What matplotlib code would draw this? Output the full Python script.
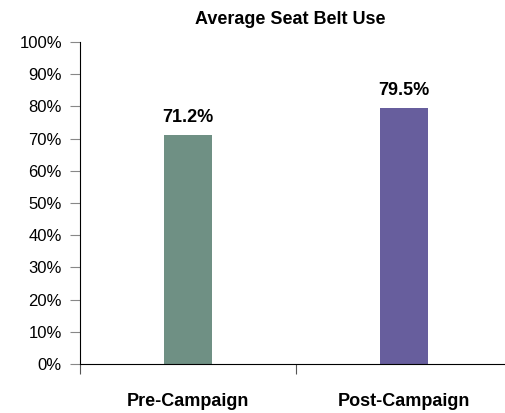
import matplotlib
matplotlib.use("Agg")
import matplotlib.pyplot as plt
from matplotlib.ticker import FixedLocator

# Chart data
categories = ["Pre-Campaign", "Post-Campaign"]
values = [71.2, 79.5]
bar_labels = ["71.2%", "79.5%"]
colors = ["#6f9084", "#675e9d"]
y_ticks = [0, 10, 20, 30, 40, 50, 60, 70, 80, 90, 100]

plt.rcParams['font.family'] = ['Liberation Sans Narrow', 'Liberation Sans', 'DejaVu Sans']

fig = plt.figure(figsize=(5.05, 4.13), dpi=100)
W, H = 505, 413
ax = fig.add_axes([80 / W, 1 - 364 / H, (512 - 80) / W, (364 - 42) / H])

x = list(range(len(categories)))
ax.bar(x, values, width=0.22, color=colors)

for xi, v, lab in zip(x, values, bar_labels):
    ax.text(xi, v + 2.8, lab, ha="center", va="bottom", fontsize=13, fontweight="bold")

ax.set_xlim(-0.5, 1.5)
ax.set_ylim(0, 100)
ax.set_yticks(y_ticks)
ax.set_yticklabels([f"{t}%" for t in y_ticks], fontsize=12)

# category boundaries as major ticks, names as minor ticks
ax.xaxis.set_major_locator(FixedLocator([-0.5, 0.5, 1.5]))
ax.xaxis.set_major_formatter(plt.NullFormatter())
ax.xaxis.set_minor_locator(FixedLocator(x))
ax.set_xticklabels(categories, minor=True, fontsize=13, fontweight="bold")
ax.tick_params(axis="x", which="minor", length=0, pad=21)
ax.tick_params(axis="x", which="major", length=7, direction="out", color="#555555")
ax.tick_params(axis="y", length=7, direction="out", color="#888888", pad=6)

ax.spines["top"].set_visible(False)
ax.spines["right"].set_visible(False)

fig.text(290 / W, 1 - 20 / H, "Average Seat Belt Use", ha="center", va="center",
         fontsize=13, fontweight="bold")

fig.savefig("out.png", dpi=100)
